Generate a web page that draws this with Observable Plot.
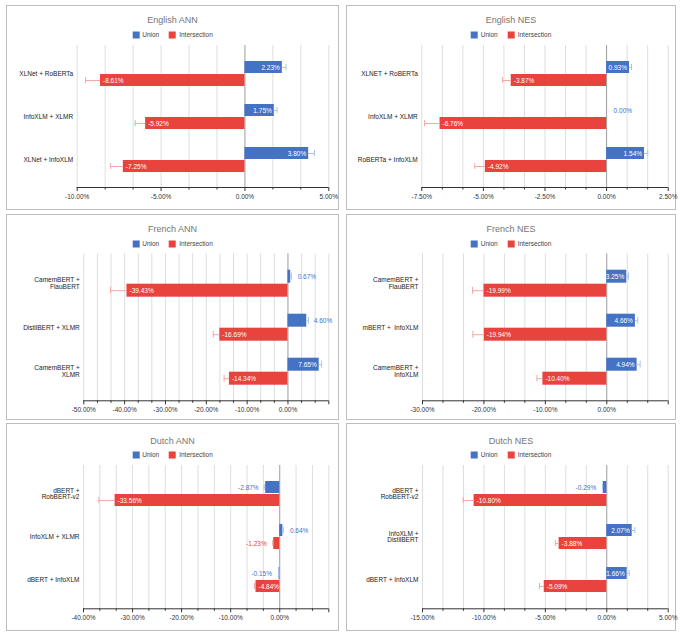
<!DOCTYPE html>
<html>
<head>
<meta charset="utf-8">
<script src="https://cdn.jsdelivr.net/npm/d3@7"></script>
<script src="https://cdn.jsdelivr.net/npm/@observablehq/plot@0.6"></script>
<style>
  body { margin: 0; background: #fff; font-family: "Liberation Sans", Arial, sans-serif; }
  #root { position: relative; width: 685px; height: 640px; overflow: hidden; background: #fff; }
  .panel { position: absolute; box-sizing: border-box; border: 1.5px solid #bdbdbd; }
  .title { position: absolute; font-size: 9px; color: #757575; transform: translate(-50%, -50%); white-space: nowrap; line-height: 1; }
  .legend { position: absolute; font-size: 6.5px; color: #444; transform: translate(-50%, -50%); white-space: nowrap; display: flex; align-items: center; line-height: 1; }
  .legend .sw { display: inline-block; width: 7px; height: 7px; margin-right: 3px; }
  .legend .item { display: inline-flex; align-items: center; margin: 0 5px; }
  .layer { position: absolute; }
</style>
</head>
<body>
<div id="root"></div>
<script>
// ---------------- data ----------------
const seriesNames = ["Union", "Intersection"];

const enAnnPairs = ["XLNet + RoBERTa", "InfoXLM + XLMR", "XLNet + InfoXLM"];
const enAnnUnion = [2.23, 1.75, 3.80];
const enAnnUnionErr = [0.22, 0.16, 0.35];
const enAnnIntersection = [-8.61, -5.92, -7.25];
const enAnnIntersectionErr = [0.89, 0.62, 0.76];
const enAnnDomain = [-10, 5];
const enAnnTickLabels = [-10, -5, 0, 5];

const enNesPairs = ["XLNET + RoBERTa", "InfoXLM + XLMR", "RoBERTa + InfoXLM"];
const enNesUnion = [0.93, 0.00, 1.54];
const enNesUnionErr = [0.08, 0, 0.13];
const enNesIntersection = [-3.87, -6.76, -4.92];
const enNesIntersectionErr = [0.35, 0.63, 0.43];
const enNesDomain = [-7.5, 2.5];
const enNesTickLabels = [-7.5, -5, -2.5, 0, 2.5];

const frAnnPairs = ["CamemBERT +\nFlauBERT", "DistilBERT + XLMR", "CamemBERT +\nXLMR"];
const frAnnUnion = [0.67, 4.60, 7.65];
const frAnnUnionErr = [0.18, 0.4, 0.6];
const frAnnIntersection = [-39.43, -16.69, -14.34];
const frAnnIntersectionErr = [4.0, 1.6, 1.3];
const frAnnDomain = [-50, 10];
const frAnnTickLabels = [-50, -40, -30, -20, -10, 0];

const frNesPairs = ["CamemBERT +\nFlauBERT", "mBERT +  InfoXLM", "CamemBERT +\nInfoXLM"];
const frNesUnion = [3.25, 4.66, 4.94];
const frNesUnionErr = [0.28, 0.39, 0.49];
const frNesIntersection = [-19.99, -19.94, -10.40];
const frNesIntersectionErr = [1.86, 1.85, 0.96];
const frNesDomain = [-30, 10];
const frNesTickLabels = [-30, -20, -10, 0];

const nlAnnPairs = ["dBERT +\nRobBERT-v2", "InfoXLM + XLMR", "dBERT + InfoXLM"];
const nlAnnUnion = [-2.87, 0.64, -0.15];
const nlAnnUnionErr = [0.3, 0.1, 0.05];
const nlAnnIntersection = [-33.56, -1.23, -4.84];
const nlAnnIntersectionErr = [3.3, 0.2, 0.3];
const nlAnnDomain = [-40, 10];
const nlAnnTickLabels = [-40, -30, -20, -10, 0];

const nlNesPairs = ["dBERT +\nRobBERT-v2", "InfoXLM +\nDistilBERT", "dBERT + InfoXLM"];
const nlNesUnion = [-0.29, 2.07, 1.66];
const nlNesUnionErr = [0.05, 0.21, 0.17];
const nlNesIntersection = [-10.80, -3.88, -5.09];
const nlNesIntersectionErr = [0.89, 0.31, 0.39];
const nlNesDomain = [-15, 5];
const nlNesTickLabels = [-15, -10, -5, 0, 5];

// ---------------- styles & layout ----------------
const seriesColors = ["#4472c4", "#e8433c"];
const whiskerColors = ["#a9c2ec", "#f2a9a4"];
const FONT = "Liberation Sans, Arial, sans-serif";

const rowLayout = [
  {top: 5, bottom: 210, titleY: 20, legendY: 35, frameTop: 45, frameBottom: 187},
  {top: 214, bottom: 420, titleY: 229, legendY: 244, frameTop: 253.3, frameBottom: 400.3},
  {top: 423, bottom: 631, titleY: 440.5, legendY: 455, frameTop: 465, frameBottom: 608.3}
];
const colLayout = [
  {left: 6, right: 339, frameRight: 328.3},
  {left: 346, right: 676, frameRight: 667.7}
];

const panels = [
  {title: "English ANN", pairs: enAnnPairs, union: enAnnUnion, unionErr: enAnnUnionErr, inter: enAnnIntersection, interErr: enAnnIntersectionErr, domain: enAnnDomain, labels: enAnnTickLabels, row: 0, col: 0, frameLeft: 76.7},
  {title: "English NES", pairs: enNesPairs, union: enNesUnion, unionErr: enNesUnionErr, inter: enNesIntersection, interErr: enNesIntersectionErr, domain: enNesDomain, labels: enNesTickLabels, row: 0, col: 1, frameLeft: 421.3},
  {title: "French ANN", pairs: frAnnPairs, union: frAnnUnion, unionErr: frAnnUnionErr, inter: frAnnIntersection, interErr: frAnnIntersectionErr, domain: frAnnDomain, labels: frAnnTickLabels, row: 1, col: 0, frameLeft: 83.3},
  {title: "French NES", pairs: frNesPairs, union: frNesUnion, unionErr: frNesUnionErr, inter: frNesIntersection, interErr: frNesIntersectionErr, domain: frNesDomain, labels: frNesTickLabels, row: 1, col: 1, frameLeft: 422},
  {title: "Dutch ANN", pairs: nlAnnPairs, union: nlAnnUnion, unionErr: nlAnnUnionErr, inter: nlAnnIntersection, interErr: nlAnnIntersectionErr, domain: nlAnnDomain, labels: nlAnnTickLabels, row: 2, col: 0, frameLeft: 83},
  {title: "Dutch NES", pairs: nlNesPairs, union: nlNesUnion, unionErr: nlNesUnionErr, inter: nlNesIntersection, interErr: nlNesIntersectionErr, domain: nlNesDomain, labels: nlNesTickLabels, row: 2, col: 1, frameLeft: 422}
];

const fmt = v => v.toFixed(2) + "%";
const r3 = v => Math.round(v * 1000) / 1000;
const root = document.getElementById("root");

function place(el, left, top) {
  el.style.left = left + "px";
  el.style.top = top + "px";
  return el;
}

panels.forEach(p => {
  const R = rowLayout[p.row], C = colLayout[p.col];
  const W = C.right - C.left;
  const svgTop = R.top + 36;
  const H = R.bottom - svgTop - 1;
  const mt = R.frameTop - svgTop;
  const mb = svgTop + H - R.frameBottom;
  const ml = p.frameLeft - C.left;
  const mr = C.left + W - C.frameRight;
  const frameW = W - ml - mr;
  const pxPerUnit = frameW / (p.domain[1] - p.domain[0]);

  // panel border
  const box = document.createElement("div");
  box.className = "panel";
  place(box, C.left, R.top);
  box.style.width = W + "px";
  box.style.height = (R.bottom - R.top) + "px";
  root.appendChild(box);

  // data rows
  const data = [];
  p.pairs.forEach((cat, i) => {
    data.push({cat, series: "Union", value: p.union[i], err: p.unionErr[i]});
    data.push({cat, series: "Intersection", value: p.inter[i], err: p.interErr[i]});
  });
  data.forEach(d => {
    d.end = d.value + (d.value < 0 ? -d.err : d.err);
    d.label = fmt(d.value);
    d.inside = Math.abs(d.value) * pxPerUnit >= 19;
  });

  // ticks
  const step = p.labels[1] - p.labels[0];
  const nMinor = Math.round((p.domain[1] - p.domain[0]) / (step / 3));
  const gridValues = d3.range(0, nMinor + 1).map(i => r3(p.domain[0] + i * step / 3));
  const majors = gridValues.filter((v, i) => i % 3 === 0);
  const minors = gridValues.filter((v, i) => i % 3 !== 0);

  const common = {
    width: W, height: H,
    marginLeft: ml, marginRight: mr, marginTop: mt, marginBottom: mb,
    style: {background: "none", overflow: "visible", fontFamily: FONT, fontSize: "6.5px", color: "#333"}
  };

  const bg = Plot.plot({
    ...common,
    x: {domain: p.domain, axis: null},
    y: {domain: [0, 1], axis: null},
    marks: [
      Plot.ruleX(gridValues.filter(v => v !== 0), {stroke: "#dedede", strokeWidth: 1}),
      Plot.ruleX([0], {stroke: "#9c9c9c", strokeWidth: 1}),
      Plot.ruleY([0], {stroke: "#333", strokeWidth: 1}),
      Plot.axisX({ticks: majors, tickSize: 4, tickPadding: 3, label: null,
        tickFormat: v => p.labels.some(l => r3(l) === v) ? fmt(v) : "",
        stroke: "#333", fill: "#333", fontSize: 6.5}),
      Plot.axisX({ticks: minors, tickSize: 2.5, label: null, tickFormat: () => "", stroke: "#333"})
    ]
  });
  bg.classList.add("layer");
  place(bg, C.left, svgTop);
  root.appendChild(bg);

  const withErr = s => data.filter(d => d.series === s && d.err > 0);
  const textOpts = {fy: "cat", y: "series", x: "value", text: "label", fontSize: 6.5};

  const fg = Plot.plot({
    ...common,
    x: {domain: p.domain, axis: null},
    y: {domain: seriesNames, axis: null, paddingInner: 0.1, paddingOuter: 0.45},
    fy: {domain: p.pairs, axis: null, paddingInner: 0.1, paddingOuter: 0.2},
    color: {domain: seriesNames, range: seriesColors},
    marks: [
      Plot.axisFy({anchor: "left", tickSize: 0, tickPadding: 4, label: null, fill: "#222", fontSize: 6.5}),
      Plot.barX(data, {fy: "cat", y: "series", x: "value", fill: "series"}),
      ...seriesNames.map((s, i) => Plot.ruleY(withErr(s), {fy: "cat", y: "series", x1: "value", x2: "end", stroke: whiskerColors[i], strokeWidth: 1})),
      ...seriesNames.map((s, i) => Plot.tickX(withErr(s), {fy: "cat", y: "series", x: "end", stroke: whiskerColors[i], strokeWidth: 1, insetTop: 3, insetBottom: 3})),
      Plot.text(data.filter(d => d.inside && d.value >= 0), {...textOpts, textAnchor: "end", dx: -2.5, fill: "white"}),
      Plot.text(data.filter(d => d.inside && d.value < 0), {...textOpts, textAnchor: "start", dx: 2.5, fill: "white"}),
      Plot.text(data.filter(d => !d.inside && d.value >= 0), {...textOpts, textAnchor: "start", dx: 7, fill: "series"}),
      Plot.text(data.filter(d => !d.inside && d.value < 0), {...textOpts, textAnchor: "end", dx: -7, fill: "series"})
    ]
  });
  fg.classList.add("layer");
  place(fg, C.left, svgTop);
  root.appendChild(fg);

  // title
  const cx = C.left + W / 2;
  const t = document.createElement("div");
  t.className = "title";
  t.textContent = p.title;
  place(t, cx, R.titleY);
  root.appendChild(t);

  // legend
  const lg = document.createElement("div");
  lg.className = "legend";
  seriesNames.forEach((s, i) => {
    const item = document.createElement("span");
    item.className = "item";
    const sw = document.createElement("span");
    sw.className = "sw";
    sw.style.background = seriesColors[i];
    const tx = document.createElement("span");
    tx.textContent = s;
    item.appendChild(sw);
    item.appendChild(tx);
    lg.appendChild(item);
  });
  place(lg, cx, R.legendY);
  root.appendChild(lg);
});
</script>
</body>
</html>
